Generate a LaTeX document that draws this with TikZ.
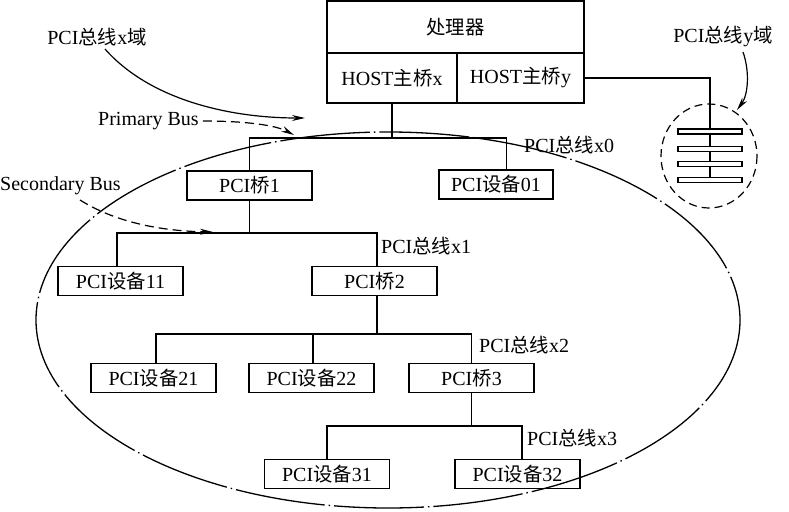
\documentclass[tikz,border=0pt]{standalone}
\usepackage{fontspec}
\setmainfont{Liberation Serif}
\newfontfamily\cjk[Scale=0.97]{Noto Sans CJK SC}
\newcommand{\zh}[1]{{\cjk #1}}
\usetikzlibrary{arrows.meta}
\begin{document}
\begin{tikzpicture}[x=1pt,y=-1pt,
  every node/.style={font=\fontsize{20}{23}\selectfont},
  box/.style={draw, line width=1.8pt, inner sep=0pt, minimum height=29pt},
  wbox/.style={box, minimum width=125pt},
  lbl/.style={anchor=west, inner sep=0pt},
  wire/.style={line width=1.25pt},
  slot/.style={draw, fill=white, line width=1.5pt, inner sep=0pt, minimum width=64pt, minimum height=5pt},
  pointer/.style={line width=1.2pt, -{Stealth[length=13pt,width=6pt]}},
  dpointer/.style={pointer, dash pattern=on 9pt off 5pt}]
\useasboundingbox (0,0) rectangle (789,511);

% processor with its two host bridges
\node[box, minimum width=257pt, minimum height=52pt] (cpu) at (455.5,27) {\zh{处理器}};
\node[box, minimum width=130pt, minimum height=50pt] (hx) at (392,78) {HOST\zh{主桥}x};
\node[box, minimum width=127pt, minimum height=50pt] (hy) at (520.5,78) {HOST\zh{主桥}y};

% devices and bridges of domain x
\node[wbox] (br1) at (249.5,185.5) {PCI\zh{桥}1};
\node[box, minimum width=114pt] (d01) at (496,184.5) {PCI\zh{设备}01};
\node[wbox] (d11) at (120.5,281) {PCI\zh{设备}11};
\node[wbox] (br2) at (374.5,281) {PCI\zh{桥}2};
\node[wbox] (d21) at (153.5,378) {PCI\zh{设备}21};
\node[wbox] (d22) at (311.5,378) {PCI\zh{设备}22};
\node[wbox] (br3) at (471.5,378) {PCI\zh{桥}3};
\node[wbox] (d31) at (327,474) {PCI\zh{设备}31};
\node[wbox] (d32) at (517.5,474) {PCI\zh{设备}32};

% bus levels
\coordinate (b0) at (0,138);
\coordinate (b1) at (0,233);
\coordinate (b2) at (0,334);
\coordinate (b3) at (0,426);

% bus x0
\draw[wire] (hx.south) -- (hx.south |- b0);
\draw[wire] (br1.north) -- (br1.north |- b0) -| ([xshift=10.5pt]d01.north);
% bus x1
\draw[wire] (br1.south) -- (br1.south |- b1);
\draw[wire] ([xshift=-3.5pt]d11.north) -- ([xshift=-3.5pt]d11.north |- b1) -| ([xshift=2.5pt]br2.north);
% bus x2
\draw[wire] ([xshift=2.5pt]br2.south) -- ([xshift=2.5pt]br2.south |- b2);
\draw[wire] ([xshift=2.5pt]d21.north) -- ([xshift=2.5pt]d21.north |- b2) -| (br3.north);
\draw[wire] ([xshift=1.5pt]d22.north) -- ([xshift=1.5pt]d22.north |- b2);
% bus x3
\draw[wire] (br3.south) -- (br3.south |- b3);
\draw[wire] (d31.north) -- (d31.north |- b3) -| ([xshift=4.5pt]d32.north);

% bus labels
\node[lbl] (lx0) at (524,145) {PCI\zh{总线}x0};
\node[lbl] (lx1) at (381,246) {PCI\zh{总线}x1};
\node[lbl] (lx2) at (479,345) {PCI\zh{总线}x2};
\node[lbl] (lx3) at (527,438) {PCI\zh{总线}x3};

% domain y: bus with slots
\coordinate (ytop) at (710,78);
\coordinate (ybot) at (710,181);
\draw[wire] (hy.east) -- (ytop) -- (ybot);
\node[slot] (s1) at (710,131.5) {};
\node[slot] (s2) at (710,149) {};
\node[slot] (s3) at (710,164) {};
\node[slot] (s4) at (710,180) {};
\draw[line width=1.2pt, dash pattern=on 8pt off 5pt] (709,156) ellipse [x radius=48, y radius=52];

% domain x outline
\draw[line width=1.3pt, dash pattern=on 90pt off 4pt on 1.5pt off 4pt] (388,320) ellipse [x radius=352, y radius=188];

% domain labels and pointers
\node (dx) at (97,37) {PCI\zh{总线}x\zh{域}};
\node (dy) at (723,36) {PCI\zh{总线}y\zh{域}};
\node[lbl] (pb) at (98,121) {Primary Bus};
\node[lbl] (sb) at (0,186) {Secondary Bus};

\coordinate (ax) at (305,118);
\coordinate (ay) at (737,110);
\coordinate (ap) at (294,135);
\coordinate (as) at (213,232);
\draw[pointer] (105,49) .. controls (150,100) and (230,118) .. (ax);
\draw[pointer] (743,52) .. controls (750,72) and (748,95) .. (ay);
\draw[dpointer] ([xshift=4pt]pb.east) .. controls (245,121) and (275,125) .. (ap);
\draw[dpointer] (80,200) .. controls (115,222) and (160,231) .. (as);
\end{tikzpicture}
\end{document}
